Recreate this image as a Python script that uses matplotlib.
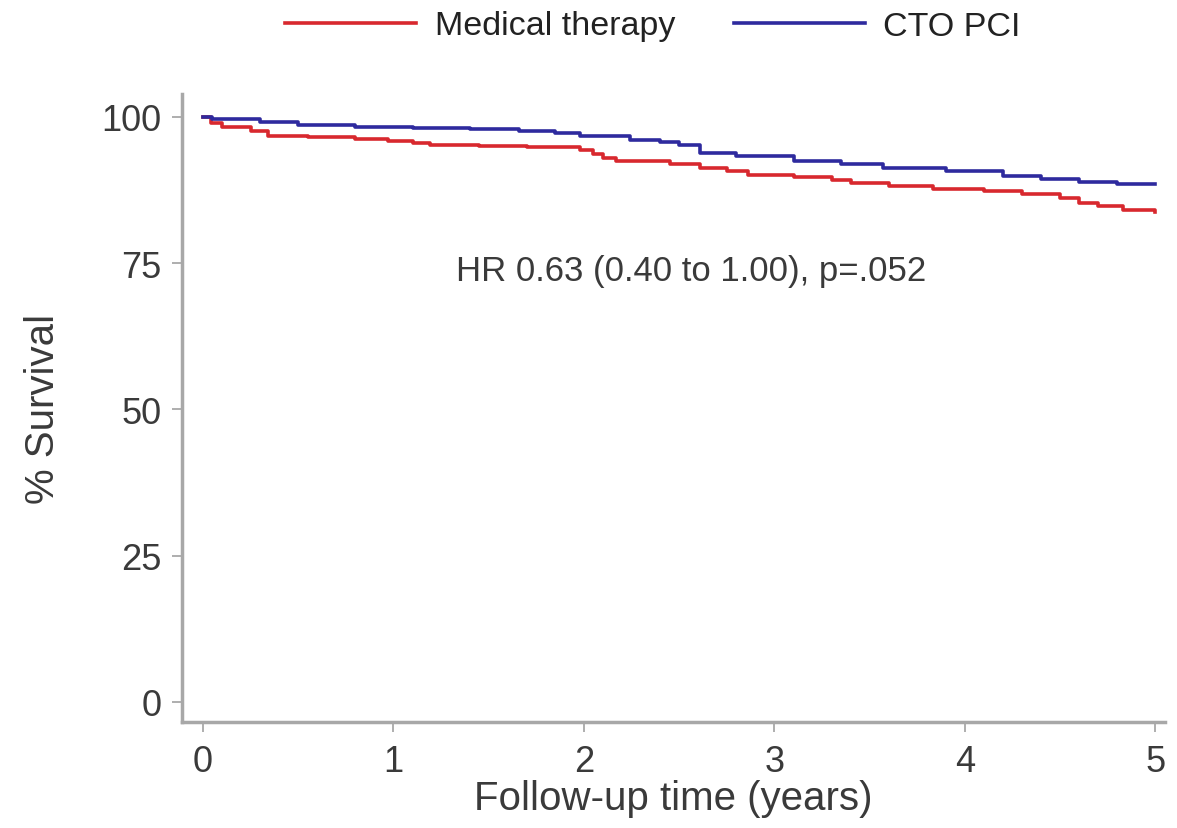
import matplotlib
matplotlib.use("Agg")
import matplotlib.pyplot as plt

plt.rcParams['font.family'] = ['Liberation Sans', 'DejaVu Sans']

# Data
med_t = [0, 0.04, 0.10, 0.25, 0.34, 0.55, 0.80, 0.97, 1.10, 1.19, 1.45, 1.70, 1.98, 2.05, 2.10, 2.17, 2.45, 2.61, 2.75, 2.86, 3.10, 3.30, 3.40, 3.60, 3.83, 4.10, 4.30, 4.50, 4.60, 4.70, 4.83, 5.00]
med_s = [100, 99.0, 98.2, 97.6, 96.8, 96.5, 96.2, 95.9, 95.5, 95.2, 95.0, 94.8, 94.3, 93.6, 93.0, 92.4, 92.0, 91.2, 90.7, 90.1, 89.7, 89.2, 88.7, 88.2, 87.7, 87.3, 86.8, 86.2, 85.3, 84.7, 84.1, 83.7]

cto_t = [0, 0.05, 0.30, 0.50, 0.80, 1.10, 1.40, 1.66, 1.85, 1.98, 2.24, 2.40, 2.50, 2.61, 2.80, 3.10, 3.35, 3.57, 3.90, 4.20, 4.40, 4.60, 4.80, 5.00]
cto_s = [100, 99.6, 99.2, 98.6, 98.3, 98.1, 97.9, 97.6, 97.2, 96.8, 96.1, 95.7, 95.1, 93.8, 93.3, 92.4, 92.0, 91.3, 90.7, 89.9, 89.4, 88.8, 88.5, 88.5]

series_labels = ["Medical therapy", "CTO PCI"]
x_ticks = [0, 1, 2, 3, 4, 5]
y_ticks = [0, 25, 50, 75, 100]
annotation = "HR 0.63 (0.40 to 1.00), p=.052"

W, H = 1177, 829
fig = plt.figure(figsize=(W / 100, H / 100), dpi=100)
ax = fig.add_axes([182 / W, 1 - 723 / H, (1165 - 182) / W, (723 - 95) / H])

red = '#d8282e'
blue = '#2e2a9e'
txt = '#3a3a3a'
gray = '#a8a8a8'

l1, = ax.plot(med_t, med_s, drawstyle='steps-post', color=red, lw=2.6, label=series_labels[0])
l2, = ax.plot(cto_t, cto_s, drawstyle='steps-post', color=blue, lw=2.6, label=series_labels[1])

ax.set_xlim(-0.11, 5.05)
ax.set_ylim(-3.42, 103.9)
ax.set_xticks(x_ticks)
ax.set_yticks(y_ticks)

for s in ['top', 'right']:
    ax.spines[s].set_visible(False)
for s in ['left', 'bottom']:
    ax.spines[s].set_color(gray)
    ax.spines[s].set_linewidth(2.5)

ax.tick_params(axis='both', length=7, width=1.3, color=gray, labelsize=26, labelcolor=txt)
ax.tick_params(axis='y', pad=8)
ax.tick_params(axis='x', pad=9)

ax.set_xlabel("Follow-up time (years)", fontsize=29, color=txt, labelpad=0)
ax.set_ylabel("% Survival", fontsize=29, color=txt, labelpad=28)

ax.text(2.56, 73.8, annotation, fontsize=25, color=txt, ha='center', va='center')

fig.legend(handles=[l1, l2], labels=series_labels, loc='center', ncol=2,
           bbox_to_anchor=(653 / W, 1 - 27 / H), frameon=False, fontsize=24.5,
           handlelength=3.85, handletextpad=0.53, columnspacing=1.74,
           borderpad=0, labelcolor='#222222')

fig.savefig("out.png", dpi=100)
